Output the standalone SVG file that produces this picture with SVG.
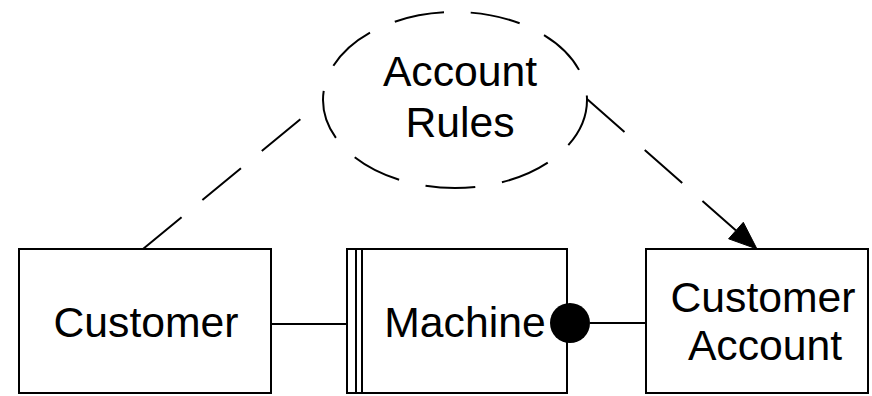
<svg xmlns="http://www.w3.org/2000/svg" width="872" height="396" viewBox="0 0 872 396">
<style>
.box{fill:#fff;stroke:#000;stroke-width:2}
.dash{fill:none;stroke:#000;stroke-width:2;stroke-dasharray:50 27}
.ln{fill:none;stroke:#000;stroke-width:2}
text{font-family:"Liberation Sans",Arial,sans-serif;font-size:42.7px;fill:#000;text-anchor:middle}
</style>
<rect width="872" height="396" fill="#fff"/>
<g id="connectors">
<line class="dash" x1="143" y1="249" x2="303" y2="117"/>
<line class="dash" x1="587" y1="99" x2="736" y2="230.5"/>
<polygon points="757,249 728.6,238.8 743.3,222.3" fill="#000" stroke="#000" stroke-width="1"/>
<line class="ln" x1="271" y1="324" x2="347" y2="324"/>
<line class="ln" x1="590" y1="323" x2="646" y2="323"/>
</g>
<g id="account-rules">
<ellipse class="dash" cx="455" cy="100" rx="132" ry="88"/>
<text x="460" y="86">Account</text>
<text x="460" y="137">Rules</text>
</g>
<g id="customer">
<rect class="box" x="19" y="249" width="252" height="144"/>
<text x="146" y="337">Customer</text>
</g>
<g id="machine">
<rect class="box" x="347" y="249" width="220" height="144"/>
<line class="ln" x1="356" y1="249" x2="356" y2="393"/>
<line class="ln" x1="362" y1="249" x2="362" y2="393"/>
<text x="465" y="337">Machine</text>
<circle cx="570" cy="323" r="20" fill="#000"/>
</g>
<g id="customer-account">
<rect class="box" x="646" y="249" width="222" height="144"/>
<text x="763" y="312">Customer</text>
<text x="765" y="360">Account</text>
</g>
</svg>
